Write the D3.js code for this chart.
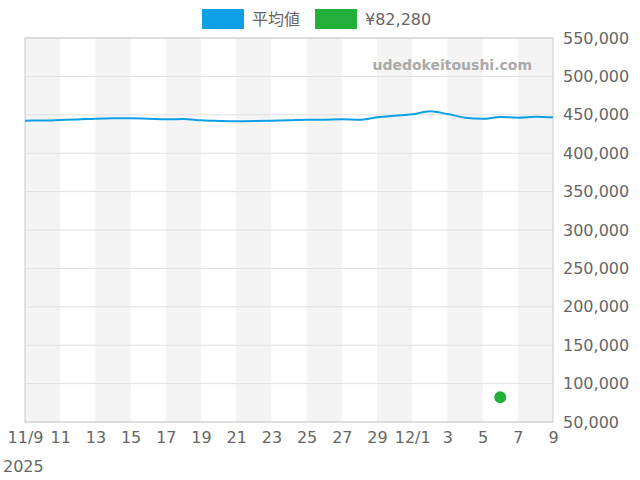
<!DOCTYPE html>
<html><head><meta charset="utf-8">
<script src="https://cdn.jsdelivr.net/npm/d3@7"></script>
<style>body{margin:0;background:#fff;font-family:"DejaVu Sans",sans-serif}</style>
</head><body>
<svg id="c" width="640" height="480"></svg>
<script>
// daily average price, 11/9 .. 12/9
const avgPrices = [442400,442500,443200,444000,445000,445400,445400,445000,444100,444500,
  442800,442000,441500,441800,442400,443000,443700,443700,444100,443600,
  446700,448800,450600,454500,451000,446300,444800,447000,446300,447600,446700];
const startDate = new Date(2025, 10, 9);
const pointDate = new Date(2025, 11, 6);
const pointValue = 82280;
const yTicks = [50000,100000,150000,200000,250000,300000,350000,400000,450000,500000,550000];
const xTickLabels = ["11/9","11","13","15","17","19","21","23","25","27","29","12/1","3","5","7","9"];

const data = avgPrices.map((v,i)=>({d:d3.timeDay.offset(startDate,i), v}));
const m = {l:25, r:553, t:38, b:422};
const x = d3.scaleTime().domain([startDate, d3.timeDay.offset(startDate,30)]).range([m.l,m.r]);
const y = d3.scaleLinear().domain([50000,550000]).range([m.b,m.t]);
const svg = d3.select("#c");

// alternating bands every 2 days
for (let i=0;i<30;i+=4){
  svg.append("rect").attr("x",x(d3.timeDay.offset(startDate,i))).attr("y",m.t)
    .attr("width",x(d3.timeDay.offset(startDate,i+2))-x(d3.timeDay.offset(startDate,i)))
    .attr("height",m.b-m.t).attr("fill","#f4f4f4");
}
svg.append("g").selectAll("line").data(yTicks).join("line")
  .attr("x1",m.l).attr("x2",m.r).attr("y1",d=>y(d)).attr("y2",d=>y(d))
  .attr("stroke","#e0e0e0");
svg.append("rect").attr("x",m.l).attr("y",m.t).attr("width",m.r-m.l).attr("height",m.b-m.t)
  .attr("fill","none").attr("stroke","#ccc");

const ya = svg.append("g").attr("transform",`translate(${m.r},0)`)
  .call(d3.axisRight(y).tickValues(yTicks).tickFormat(d3.format(",")).tickSize(0).tickPadding(10));
ya.select(".domain").remove();
ya.selectAll("text").attr("font-size",16).attr("fill","#666").attr("font-family","DejaVu Sans");

const xt = d3.range(0,31,2).map(i=>d3.timeDay.offset(startDate,i));
const xa = svg.append("g").attr("transform",`translate(0,${m.b})`)
  .call(d3.axisBottom(x).tickValues(xt).tickFormat((d,i)=>xTickLabels[i]).tickSize(0).tickPadding(10));
xa.select(".domain").remove();
xa.selectAll("text").attr("font-size",16).attr("fill","#666").attr("font-family","DejaVu Sans");
svg.append("text").attr("x",3).attr("y",472).attr("font-size",16).attr("fill","#666").text("2025");

svg.append("text").attr("x",532).attr("y",70).attr("text-anchor","end").attr("font-size",14)
  .attr("font-weight","bold").attr("fill","#aaa").text("udedokeitoushi.com");

svg.append("path").datum(data)
  .attr("d",d3.line().x(d=>x(d.d)).y(d=>y(d.v)).curve(d3.curveMonotoneX))
  .attr("fill","none").attr("stroke","#0ea0e4").attr("stroke-width",2);
svg.append("circle").attr("cx",x(pointDate)).attr("cy",y(pointValue)).attr("r",6).attr("fill","#22b03a");

// legend
svg.append("rect").attr("x",202).attr("y",9).attr("width",42).attr("height",20).attr("fill","#0ea0e4");
svg.append("text").attr("x",252).attr("y",25).attr("font-size",16).attr("fill","#666")
  .attr("font-family","Noto Sans CJK JP").text("平均値");
svg.append("rect").attr("x",315).attr("y",9).attr("width",42).attr("height",20).attr("fill","#22b03a");
svg.append("text").attr("x",365).attr("y",25).attr("font-size",16).attr("fill","#666").text("¥82,280");
</script>
</body></html>
